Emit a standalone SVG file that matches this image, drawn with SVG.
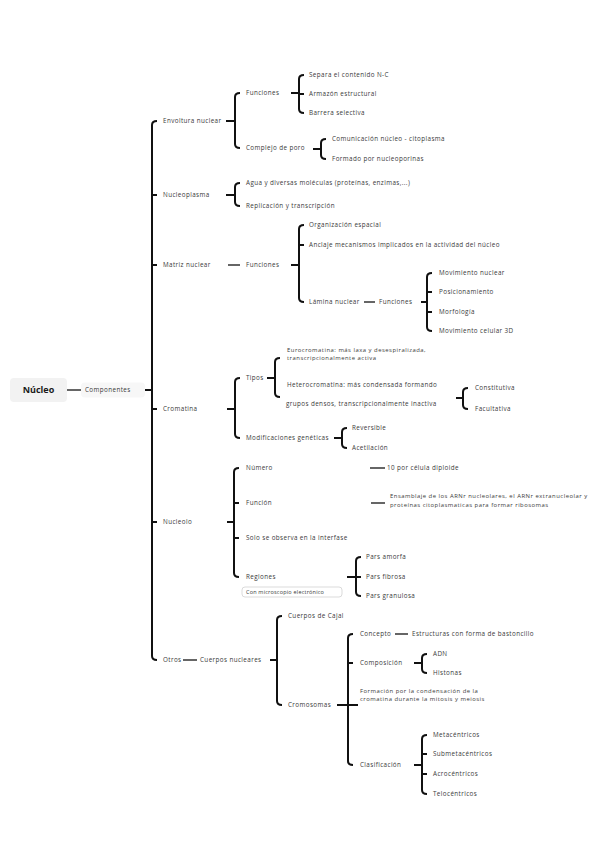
<svg xmlns="http://www.w3.org/2000/svg" width="600" height="848" viewBox="0 0 600 848">
<style>
.t{font-family:"Open Sans","Liberation Sans",sans-serif;font-size:6.3px;letter-spacing:0.4px;fill:#3a3a3a}
.m{font-size:5.9px;letter-spacing:0.5px}
.s{font-size:5.5px;letter-spacing:0.2px}
.root{font-family:"Open Sans","Liberation Sans",sans-serif;font-size:9px;font-weight:bold;fill:#1a1a1a}
.b{fill:none;stroke:#111;stroke-width:2;stroke-linecap:butt;stroke-linejoin:round}
.l{fill:none;stroke:#333;stroke-width:1.5}
</style>
<rect width="600" height="848" fill="#fff"/>
<g id="connectors">
<path class="l" d="M67,390H81"/>
<path class="b" d="M145,390H152M157,121Q152,121 152,125V656Q152,660 157,660M152,195h5M152,265h5M152,409h5M152,522h5"/>
<path class="b" d="M226,121H235M240,93Q235,93 235,97V144Q235,148 240,148"/>
<path class="b" d="M291,93H299M304,75Q299,75 299,79V109Q299,113 304,113M299,94h5"/>
<path class="b" d="M313,149H321M326,139Q321,139 321,143V155Q321,159 326,159"/>
<path class="b" d="M226,195H235M240,183Q235,183 235,187V202Q235,206 240,206"/>
<path class="l" d="M228,265H240"/>
<path class="b" d="M291,265H299M304,225Q299,225 299,229V298Q299,302 304,302M299,245h5"/>
<path class="l" d="M364,302H375"/>
<path class="b" d="M421,302H427M432,273Q427,273 427,277V327Q427,331 432,331M427,292h5M427,312h5"/>
<path class="b" d="M227,409H235M240,378Q235,378 235,382V434Q235,438 240,438"/>
<path class="b" d="M267,378H275M280,358Q275,358 275,362V393Q275,397 280,397"/>
<path class="b" d="M456,398H463M468,388Q463,388 463,392V405Q463,409 468,409"/>
<path class="b" d="M334,438H342M347,428Q342,428 342,432V444Q342,448 347,448"/>
<path class="b" d="M227,522H234M239,468Q234,468 234,472V573Q234,577 239,577M234,503h5M234,538h5"/>
<path class="l" d="M370,468H385"/>
<path class="l" d="M371,503H385"/>
<path class="b" d="M347,577H356M361,557Q356,557 356,561V592Q356,596 361,596M356,577h5"/>
<path class="l" d="M183,660H197"/>
<path class="b" d="M270,660H277M282,616Q277,616 277,620V701Q277,705 282,705"/>
<path class="b" d="M337,705H348M353,634Q348,634 348,638V761Q348,765 353,765M348,663h5M348,705h10"/>
<path class="l" d="M395,634H408"/>
<path class="b" d="M414,663H422M427,654Q422,654 422,658V669Q422,673 427,673"/>
<path class="b" d="M414,765H422M427,735Q422,735 422,739V790Q422,794 427,794M422,754h5M422,774h5"/>
</g>
<g id="n-nucleo"><rect x="10" y="378" width="57" height="24" rx="4" fill="#f2f2f2"/><text class="root" x="38.5" y="393.2" text-anchor="middle">Núcleo</text></g>
<g id="n-componentes"><rect x="81" y="382.5" width="64" height="15" rx="4" fill="#f7f7f7"/><text class="t" x="85" y="392.2">Componentes</text></g>
<g id="n-envoltura"><text class="t" x="163" y="123.2">Envoltura nuclear</text></g>
<g id="n-env-funciones"><text class="t" x="246" y="95.2">Funciones</text></g>
<g id="n-separa"><text class="t" x="309" y="77.2">Separa el contenido N-C</text></g>
<g id="n-armazon"><text class="t" x="309" y="96.2">Armazón estructural</text></g>
<g id="n-barrera"><text class="t" x="309" y="115.2">Barrera selectiva</text></g>
<g id="n-poro"><text class="t" x="246" y="150.2">Complejo de poro</text></g>
<g id="n-comunicacion"><text class="t" x="332" y="141.2">Comunicación núcleo - citoplasma</text></g>
<g id="n-formado"><text class="t" x="332" y="161.2">Formado por nucleoporinas</text></g>
<g id="n-nucleoplasma"><text class="t" x="163" y="197.2">Nucleoplasma</text></g>
<g id="n-agua"><text class="t" x="246" y="185.2">Agua y diversas moléculas (proteínas, enzimas,...)</text></g>
<g id="n-replicacion"><text class="t" x="246" y="208.2">Replicación y transcripción</text></g>
<g id="n-matriz"><text class="t" x="163" y="267.2">Matriz nuclear</text></g>
<g id="n-mat-funciones"><text class="t" x="246" y="267.2">Funciones</text></g>
<g id="n-organizacion"><text class="t" x="309" y="227.2">Organización espacial</text></g>
<g id="n-anclaje"><text class="t" x="309" y="247.2">Anclaje mecanismos implicados en la actividad del núcleo</text></g>
<g id="n-lamina"><text class="t" x="309" y="304.2">Lámina nuclear</text></g>
<g id="n-lam-funciones"><text class="t" x="379" y="304.2">Funciones</text></g>
<g id="n-movnuclear"><text class="t" x="439" y="275.2">Movimiento nuclear</text></g>
<g id="n-posicionamiento"><text class="t" x="439" y="294.2">Posicionamiento</text></g>
<g id="n-morfologia"><text class="t" x="439" y="314.2">Morfología</text></g>
<g id="n-movcelular"><text class="t" x="439" y="333.2">Movimiento celular 3D</text></g>
<g id="n-cromatina"><text class="t" x="163" y="411.2">Cromatina</text></g>
<g id="n-tipos"><text class="t" x="246" y="380.2">Tipos</text></g>
<g id="n-eucromatina"><text class="t m" x="287" y="352.1">Eurocromatina: más laxa y desespiralizada,<tspan x="287" y="360.2">transcripcionalmente activa</tspan></text></g>
<g id="n-heterocromatina"><text class="t" x="287" y="387">Heterocromatina: más condensada formando<tspan x="286" y="406.4">grupos densos, transcripcionalmente inactiva</tspan></text></g>
<g id="n-constitutiva"><text class="t" x="475" y="390.2">Constitutiva</text></g>
<g id="n-facultativa"><text class="t" x="475" y="411.2">Facultativa</text></g>
<g id="n-modificaciones"><text class="t" x="246" y="440.2">Modificaciones genéticas</text></g>
<g id="n-reversible"><text class="t" x="352" y="430.2">Reversible</text></g>
<g id="n-acetilacion"><text class="t" x="352" y="450.2">Acetilación</text></g>
<g id="n-nucleolo"><text class="t" x="163" y="524.2">Nucleolo</text></g>
<g id="n-numero"><text class="t" x="246" y="470.2">Número</text></g>
<g id="n-diez"><text class="t" x="387" y="470.2">10 por célula diploide</text></g>
<g id="n-funcion"><text class="t" x="246" y="505.2">Función</text></g>
<g id="n-ensamblaje"><text class="t m" x="390" y="498.4">Ensamblaje de los ARNr nucleolares, el ARNr extranucleolar y<tspan x="390" y="506.5">proteínas citoplasmaticas para formar ribosomas</tspan></text></g>
<g id="n-solo"><text class="t" x="246" y="540.2">Solo se observa en la interfase</text></g>
<g id="n-regiones"><text class="t" x="246" y="579.2">Regiones</text></g>
<g id="n-microscopio"><rect x="242" y="587" width="100" height="10" rx="3" fill="#fff" stroke="#ccc" stroke-width="0.7"/><text class="t s" x="246" y="594">Con microscopio electrónico</text></g>
<g id="n-amorfa"><text class="t" x="366" y="559.2">Pars amorfa</text></g>
<g id="n-fibrosa"><text class="t" x="366" y="579.2">Pars fibrosa</text></g>
<g id="n-granulosa"><text class="t" x="366" y="598.2">Pars granulosa</text></g>
<g id="n-otros"><text class="t" x="163" y="662.2">Otros</text></g>
<g id="n-cuerpos"><text class="t" x="200" y="662.2">Cuerpos nucleares</text></g>
<g id="n-cajal"><text class="t" x="288" y="618.2">Cuerpos de Cajal</text></g>
<g id="n-cromosomas"><text class="t" x="288" y="707.2">Cromosomas</text></g>
<g id="n-concepto"><text class="t" x="360" y="636.2">Concepto</text></g>
<g id="n-estructuras"><text class="t" x="412" y="636.2">Estructuras con forma de bastoncillo</text></g>
<g id="n-composicion"><text class="t" x="360" y="665.2">Composición</text></g>
<g id="n-adn"><text class="t" x="433" y="656.2">ADN</text></g>
<g id="n-histonas"><text class="t" x="433" y="675.2">Histonas</text></g>
<g id="n-formacion"><text class="t m" x="360" y="693.3">Formación por la condensación de la<tspan x="360" y="701.4">cromatina durante la mitosis y meiosis</tspan></text></g>
<g id="n-clasificacion"><text class="t" x="360" y="767.2">Clasificación</text></g>
<g id="n-metacentricos"><text class="t" x="433" y="737.2">Metacéntricos</text></g>
<g id="n-submetacentricos"><text class="t" x="433" y="756.2">Submetacéntricos</text></g>
<g id="n-acrocentricos"><text class="t" x="433" y="776.2">Acrocéntricos</text></g>
<g id="n-telocentricos"><text class="t" x="433" y="796.2">Telocéntricos</text></g>
</svg>
